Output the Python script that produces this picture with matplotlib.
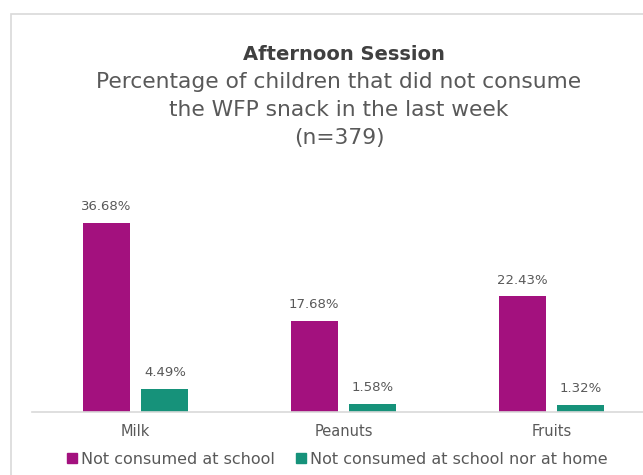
import matplotlib
matplotlib.use("Agg")
import matplotlib.pyplot as plt
from matplotlib.patches import Rectangle
from matplotlib.lines import Line2D
import numpy as np

categories = ["Milk", "Peanuts", "Fruits"]
not_at_school = [36.68, 17.68, 22.43]
not_at_school_nor_home = [4.49, 1.58, 1.32]
series_names = ["Not consumed at school", "Not consumed at school nor at home"]

purple = "#A3117E"
green = "#16927A"
grey = "#595959"

plt.rcParams['font.family'] = ['DejaVu Sans']

W, H = 643, 475
fig = plt.figure(figsize=(W / 100, H / 100), dpi=100)

# outer chart border (cropped on right and bottom)
fig.patches.append(Rectangle((11 / W, -0.1), 1.2, 1 - 14 / H + 0.1,
                             transform=fig.transFigure, fill=False,
                             edgecolor="#D9D9D9", lw=1.2))

ax = fig.add_axes([31.5 / W, 63 / H, 624 / W, 206 / H])
x = np.arange(len(categories))
bw = 0.226
off = 0.141
b1 = ax.bar(x - off, not_at_school, bw, color=purple)
b2 = ax.bar(x + off, not_at_school_nor_home, bw, color=green)

for bars, vals in ((b1, not_at_school), (b2, not_at_school_nor_home)):
    for b, v in zip(bars, vals):
        ax.annotate(f"{v:.2f}%", (b.get_x() + b.get_width() / 2, v),
                    xytext=(0, 7), textcoords="offset points",
                    ha="center", va="bottom", fontsize=9.5, color=grey)

ax.set_xlim(-0.5, 2.5)
ax.set_ylim(0, 40)
ax.set_xticks(x)
ax.set_xticklabels(categories, fontsize=10.5, color=grey)
ax.tick_params(axis="x", length=0, pad=9)
ax.set_yticks([])
for s in ("left", "right", "top"):
    ax.spines[s].set_visible(False)
ax.spines["bottom"].set_color("#D9D9D9")
ax.spines["bottom"].set_linewidth(1.2)

cx = 339 / W
fig.text(344 / W, 1 - 54 / H, "Afternoon Session", ha="center", va="center",
         fontsize=14, fontweight="bold", color="#404040")
fig.text(cx, 1 - 82 / H, "Percentage of children that did not consume",
         ha="center", va="center", fontsize=15.7, color=grey)
fig.text(cx, 1 - 110 / H, "the WFP snack in the last week",
         ha="center", va="center", fontsize=15.7, color=grey)
fig.text(cx, 1 - 138 / H, "(n=379)",
         ha="center", va="center", fontsize=15.7, color=grey)

handles = [Line2D([], [], marker="s", ls="none", color=purple, markersize=6.5),
           Line2D([], [], marker="s", ls="none", color=green, markersize=6.5)]
fig.legend(handles, series_names, loc="center", bbox_to_anchor=(337 / W, 1 - 459 / H),
           ncol=2, frameon=False, fontsize=11.5, labelcolor=grey,
           handlelength=0.7, handletextpad=0.2, columnspacing=1.3,
           borderpad=0, borderaxespad=0)

fig.savefig("out.png", dpi=100)
